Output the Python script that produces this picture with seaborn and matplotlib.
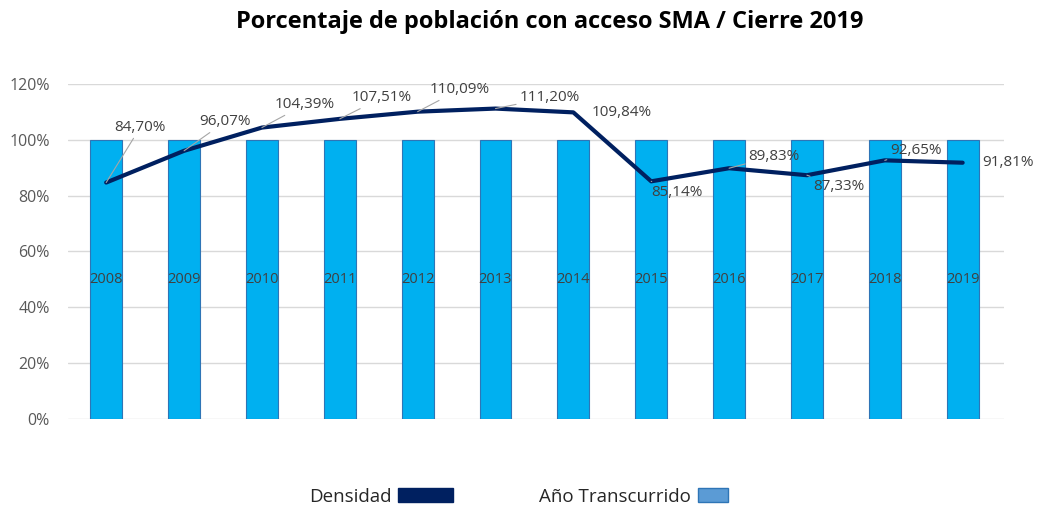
import matplotlib
matplotlib.use("Agg")
import matplotlib.pyplot as plt
import seaborn as sns
import numpy as np
import pandas as pd
from matplotlib.patches import Patch, Rectangle
from matplotlib.legend_handler import HandlerPatch

years = ["2008", "2009", "2010", "2011", "2012", "2013", "2014", "2015", "2016", "2017", "2018", "2019"]
densidad = [0.8470, 0.9607, 1.0439, 1.0751, 1.1009, 1.1120, 1.0984, 0.8514, 0.8983, 0.8733, 0.9265, 0.9181]
anio_transcurrido = [1.0] * 12
labels = ["84,70%", "96,07%", "104,39%", "107,51%", "110,09%", "111,20%", "109,84%",
          "85,14%", "89,83%", "87,33%", "92,65%", "91,81%"]
ytick_vals = [0, 0.2, 0.4, 0.6, 0.8, 1.0, 1.2]
ytick_labels = ["0%", "20%", "40%", "60%", "80%", "100%", "120%"]

# label offsets in pixels (dx, dy) and whether to draw leader line
label_offsets = [(34, 55), (41, 29), (43, 23), (42, 21), (42, 22), (54, 11), (48, 0),
                 (26, -11), (45, 12), (32, -11), (31, 10), (45, 0)]
leaders = [True, True, True, True, True, True, False, True, True, True, True, False]

sns.set_theme(style="white")
plt.rcParams['font.family'] = ['Open Sans', 'DejaVu Sans']

fig = plt.figure(figsize=(10.37, 5.07), dpi=100)
ax = fig.add_axes([0.0656, 0.1736, 0.9025, 0.6607])

df = pd.DataFrame({"year": years, "anio": anio_transcurrido, "dens": densidad})
sns.barplot(data=df, x="year", y="anio", color="#00B0F0", width=0.41,
            edgecolor="#2E75B6", linewidth=0.8, saturation=1, ax=ax, zorder=2)
sns.lineplot(x=np.arange(len(years)), y=densidad, color="#002060", linewidth=3,
             ax=ax, zorder=4)

ax.set_ylim(0, 1.2)
ax.set_xlim(-0.49, len(years) - 1 + 0.53)
ax.set_yticks(ytick_vals)
ax.set_yticklabels(ytick_labels, color="#595959", fontsize=11.5)
ax.set_xticks([])
ax.set_xlabel("")
ax.set_ylabel("")
ax.tick_params(axis='y', length=0, pad=13)
for s in ax.spines.values():
    s.set_visible(False)
for v in ytick_vals:
    ax.axhline(v, color="#D9D9D9", linewidth=1, zorder=1)

for i, y in enumerate(years):
    ax.text(i, 0.5, y, ha="center", va="center", color="#404040", fontsize=10.5, zorder=3)

for i, (v, lab) in enumerate(zip(densidad, labels)):
    dx, dy = label_offsets[i]
    ap = dict(arrowstyle="-", color="#A6A6A6", linewidth=0.8, shrinkA=0, shrinkB=0) if leaders[i] else None
    ax.annotate(lab, xy=(i, v), xytext=(dx, dy), textcoords="offset pixels",
                ha="center", va="center", color="#404040", fontsize=11,
                arrowprops=ap, zorder=5)

fig.text(0.530, 0.957, "Porcentaje de población con acceso SMA / Cierre 2019",
         ha="center", va="center", fontsize=17, fontweight="bold", color="#000000")


def narrow_rect(legend, orig_handle, xdescent, ydescent, width, height, fontsize):
    return Rectangle((-xdescent, -ydescent), width * 0.55, height)


handles = [Patch(facecolor="#002060", edgecolor="#002060"),
           Patch(facecolor="#5B9BD5", edgecolor="#2E75B6")]
fig.legend(handles, ["Densidad", "Año Transcurrido"], loc="center",
           bbox_to_anchor=(0.512, 0.02), ncol=2, frameon=False, markerfirst=False,
           fontsize=13.5, handlelength=2.93, handleheight=0.75, columnspacing=4.6,
           handletextpad=0.37, labelcolor="#262626",
           handler_map={handles[1]: HandlerPatch(patch_func=narrow_rect)})

fig.savefig("out.png", dpi=100)
